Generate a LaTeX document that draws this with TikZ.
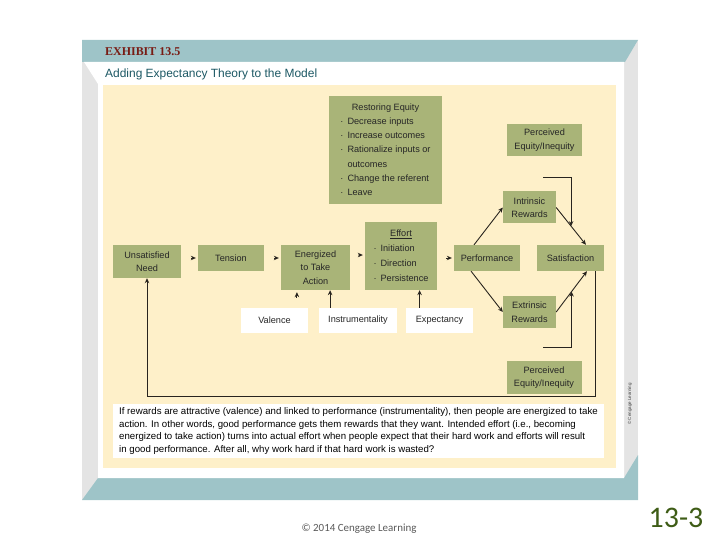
\documentclass[tikz,border=0pt]{standalone}
\usepackage{fontspec}
\setmainfont{Liberation Sans}
\newfontfamily\carlito{Carlito}
\newfontfamily\serifexh{Liberation Serif}
\usepackage{tikz}
\usepackage{xcolor}
\usetikzlibrary{arrows.meta}

\definecolor{verdecaja}{RGB}{169,180,120}
\definecolor{crema}{RGB}{254,240,201}
\definecolor{turquesa}{RGB}{158,196,200}
\definecolor{grismarco}{RGB}{228,228,228}
\definecolor{linea}{RGB}{40,36,30}
\definecolor{titulo}{RGB}{28,88,100}
\definecolor{rojoexh}{RGB}{120,28,20}
\definecolor{verdepag}{RGB}{62,92,22}

\begin{document}
\begin{tikzpicture}[x=1bp, y=-1bp,
    % Definimos los estilos para no repetir código
    caja/.style 2 args={fill=verdecaja, minimum width=#1bp, minimum height=#2bp,
      inner sep=0pt, align=center, text=black!85, font=\fontsize{9.2}{13.5}\selectfont},
    blanca/.style 2 args={caja={#1}{#2}, fill=white},
    flecha/.style={draw=linea, line width=0.9pt, -{Stealth[length=5pt,width=4.5pt]}}
  ]
  \useasboundingbox (0,0) rectangle (720,540);

  % 1. Marco de la lamina (bandas y fondo)
  \fill[grismarco] (82,40) rectangle (638,500);
  \fill[turquesa] (82,40) -- (638,40) -- (625,62) -- (82,62) -- cycle;
  \fill[turquesa] (82,500) -- (98,478) -- (624,478) -- (638,455) -- (638,500) -- cycle;
  \fill[white] (84,62) -- (624,62) -- (624,478) -- (98,478) -- (98,84) -- cycle;
  \fill[crema] (103,85) rectangle (616,468);

  \node[anchor=west, inner sep=0pt, text=rojoexh, font=\serifexh\bfseries\fontsize{12}{14}\selectfont] (exhibit) at (105,52) {EXHIBIT 13.5};
  \node[anchor=west, inner sep=0pt, text=titulo, font=\fontsize{12}{14}\selectfont] (titulo) at (105,74) {Adding Expectancy Theory to the Model};

  % 2. Definimos las cajas de la fila central
  \node[caja={68}{33}] (necesidad) at (147,261.5) {Unsatisfied\\Need};
  \node[caja={66}{26}] (tension) at (231,258) {Tension};
  \node[caja={69}{45}] (energizado) at (315.5,267.5) {Energized\\to Take\\Action};
  \node[caja={72}{68}] (esfuerzo) at (401,256) {%
    \fontsize{9.2}{15}\selectfont
    \begin{tabular}{@{}l@{\hspace{4bp}}l@{}}
      \multicolumn{2}{c}{\underline{Effort}}\\
      · & Initiation\\
      · & Direction\\
      · & Persistence
    \end{tabular}};
  \node[caja={66}{26}] (desempeno) at (487,258) {Performance};
  \node[caja={67}{26}] (satisfaccion) at (570.5,258) {Satisfaction};

  % 3. Cajas de arriba y de abajo (recompensas y equidad)
  \node[caja={113}{108}] (restaurar) at (385.5,150) {%
    \fontsize{9.2}{14.3}\selectfont
    \begin{tabular}{@{}l@{\hspace{4bp}}l@{}}
      \multicolumn{2}{c}{Restoring Equity}\\
      · & Decrease inputs\\
      · & Increase outcomes\\
      · & Rationalize inputs or\\
        & outcomes\\
      · & Change the referent\\
      · & Leave
    \end{tabular}};
  \node[caja={75}{32}] (equidadarriba) at (544.5,140) {Perceived\\Equity/Inequity};
  \node[caja={53}{32}] (intrinseca) at (529.5,207.5) {Intrinsic\\Rewards};
  \node[caja={53}{32}] (extrinseca) at (529.5,312) {Extrinsic\\Rewards};
  \node[caja={75}{33}] (equidadabajo) at (544,377.5) {Perceived\\Equity/Inequity};

  % 4. Cajas blancas de la teoria de expectativas
  \node[blanca={67}{25}] (valencia) at (274.5,320.5) {Valence};
  \node[blanca={78}{25}] (instrumentalidad) at (358,320.5) {Instrumentality};
  \node[blanca={67}{25}] (expectativa) at (439.5,320.5) {Expectancy};

  % 5. Dibujamos las conexiones (Edges)
  \draw[flecha, shorten <=10pt, shorten >=2pt] (necesidad.east |- tension) -- (tension.west);
  \draw[flecha, shorten <=10pt, shorten >=2pt] (tension.east) -- (tension -| energizado.west);
  \draw[flecha, shorten <=8pt, shorten >=2pt] ([yshift=12.5pt]energizado.east) -- ([yshift=1pt]esfuerzo.west);
  \draw[flecha, shorten <=9pt, shorten >=2pt] (esfuerzo.east |- desempeno) -- (desempeno.west);

  % Conexiones desde las cajas blancas
  \draw[flecha, shorten <=10pt, shorten >=2pt] ([xshift=22.5pt]valencia.north) -- ([xshift=22.5pt]valencia.north |- energizado.south);
  \draw[flecha] ([xshift=-28pt]instrumentalidad.north) -- ([xshift=-28pt]instrumentalidad.north |- energizado.south);
  \draw[flecha] ([xshift=-20pt]expectativa.north) -- ([xshift=-20pt]expectativa.north |- esfuerzo.south);

  % Conexiones del rombo desempeno - recompensas - satisfaccion
  \draw[flecha] ([xshift=-13pt]desempeno.north) -- (intrinseca.west);
  \draw[flecha] (intrinseca.east) -- coordinate[pos=0.5] (m1) ([xshift=15.5pt]satisfaccion.north);
  \draw[flecha] ([xshift=-16pt]desempeno.south) -- (extrinseca.west);
  \draw[flecha] (extrinseca.east) -- coordinate[pos=0.5] (m2) ([xshift=16.5pt]satisfaccion.south);

  % Lineas de equidad percibida
  \coordinate (p1) at (543,177);
  \coordinate (p2) at (543,347);
  \draw[flecha] (p1) -| (m1);
  \draw[flecha] (p2) -| (m2);

  % Retorno a la necesidad insatisfecha
  \draw[flecha] ([xshift=25.5pt]satisfaccion.south) -- ++(0,125) -| (necesidad.south);

  % 6. Texto explicativo y pie
  \node[blanca={491}{54}, align=left, text=black, font=\fontsize{9.7}{12.4}\selectfont] (nota) at (358.5,431) {%
    If rewards are attractive (valence) and linked to performance (instrumentality), then people are energized to take\\
    action. In other words, good performance gets them rewards that they want. Intended effort (i.e., becoming\\
    energized to take action) turns into actual effort when people expect that their hard work and efforts will result\\
    in good performance. After all, why work hard if that hard work is wasted?};

  \node[rotate=90, text=black!75, font=\fontsize{4.5}{5}\selectfont] (derechos) at (630,404) {© Cengage Learning};
  \node[text=black!65, font=\carlito\fontsize{11}{13}\selectfont] (pie) at (359,529) {© 2014 Cengage Learning};
  \node[text=verdepag, font=\carlito\fontsize{30}{32}\selectfont] (pagina) at (676,518) {13-3};

\end{tikzpicture}
\end{document}
